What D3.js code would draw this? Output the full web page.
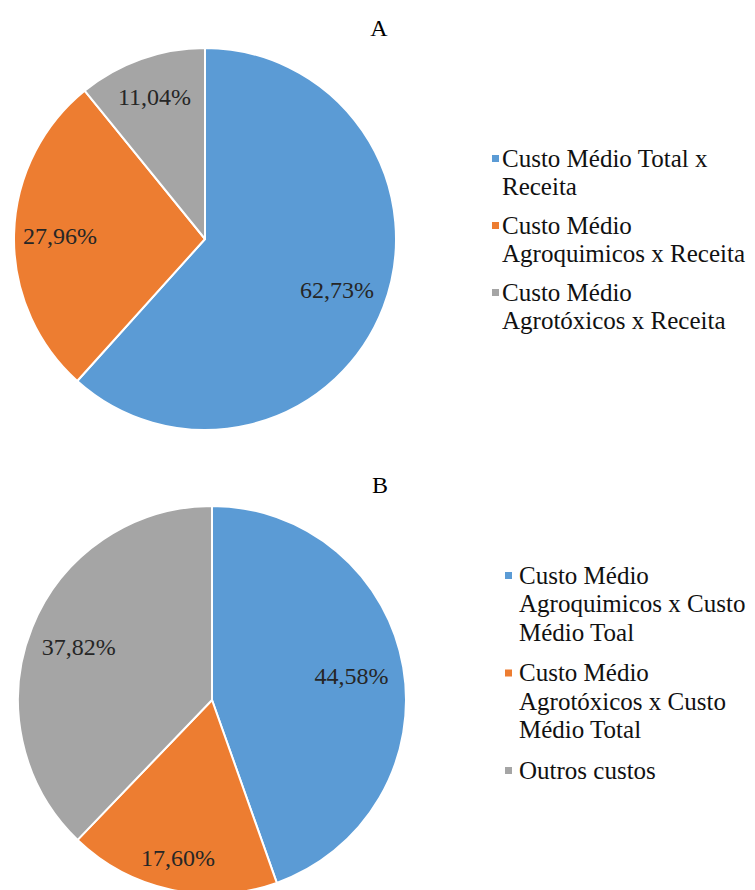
<!DOCTYPE html>
<html>
<head>
<meta charset="utf-8">
<script src="https://cdn.jsdelivr.net/npm/d3@7"></script>
<style>
  body { margin: 0; background: #fff; }
  svg { display: block; }
  svg text { font-family: 'Liberation Serif', 'DejaVu Serif', serif; }
</style>
</head>
<body>
<svg width="755" height="890"></svg>
<script>
// chart A data
const categoriesA = [
    ['Custo Médio Total x', 'Receita'],
    ['Custo Médio', 'Agroquimicos x Receita'],
    ['Custo Médio', 'Agrotóxicos x Receita']
];
const valuesA = [62.73, 27.96, 11.04];
const labelsA = ['62,73%', '27,96%', '11,04%'];

// chart B data
const categoriesB = [
    ['Custo Médio', 'Agroquimicos x Custo', 'Médio Toal'],
    ['Custo Médio', 'Agrotóxicos x Custo', 'Médio Total'],
    ['Outros custos']
];
const valuesB = [44.58, 17.60, 37.82];
const labelsB = ['44,58%', '17,60%', '37,82%'];

const colors = ['#5b9bd5', '#ed7d31', '#a5a5a5'];

const svg = d3.select('svg');

// draws one pie with its title and legend
function draw_pie(cfg) {
    const g = svg.append('g')
        .attr('transform', `translate(${cfg.cx},${cfg.cy})`);

    const color_scale = d3.scaleOrdinal()
        .domain(d3.range(cfg.values.length))
        .range(colors);

    const pie = d3.pie().sort(null).value(d => d);
    const arcs = pie(cfg.values);

    const arc = d3.arc().innerRadius(0).outerRadius(cfg.r);

    g.selectAll('.slice')
        .data(arcs)
        .enter()
        .append('path')
        .attr('class', 'slice')
        .attr('d', arc)
        .attr('fill', (d, i) => color_scale(i))
        .attr('stroke', '#fff')
        .attr('stroke-width', 2)
        .attr('stroke-linejoin', 'round');

    // percentage labels
    g.selectAll('.pct')
        .data(arcs)
        .enter()
        .append('text')
        .attr('class', 'pct')
        .attr('transform', (d, i) => {
            const lr = cfg.r * cfg.labelPos[i];
            const c = d3.arc().innerRadius(lr).outerRadius(lr).centroid(d);
            return `translate(${c[0]},${c[1]})`;
        })
        .attr('text-anchor', 'middle')
        .attr('dy', '0.35em')
        .attr('font-size', 24)
        .attr('fill', '#262626')
        .text((d, i) => cfg.labels[i]);

    // title
    svg.append('text')
        .attr('x', cfg.titleX)
        .attr('y', cfg.titleY)
        .attr('text-anchor', 'middle')
        .attr('dy', '0.35em')
        .attr('font-size', 24)
        .attr('fill', '#000')
        .text(cfg.title);

    // legend
    const legend = svg.append('g')
        .attr('transform', `translate(${cfg.legendX},${cfg.legendY})`);
    let y = 0;
    cfg.categories.forEach((lines, i) => {
        legend.append('rect')
            .attr('x', 0)
            .attr('y', y - 3)
            .attr('width', 7)
            .attr('height', 7)
            .attr('fill', color_scale(i));
        lines.forEach((line, j) => {
            legend.append('text')
                .attr('x', cfg.textOffset)
                .attr('y', y + j * 28.5)
                .attr('dy', '0.35em')
                .attr('font-size', 25)
                .attr('fill', '#111')
                .text(line);
        });
        y += lines.length * 28.5 + cfg.itemGap;
    });
}

draw_pie({
    values: valuesA, labels: labelsA, categories: categoriesA, title: 'A',
    cx: 205, cy: 239, r: 191,
    labelPos: [0.74, 0.76, 0.79],
    titleX: 379, titleY: 28,
    legendX: 492, legendY: 158, textOffset: 10, itemGap: 10
});

draw_pie({
    values: valuesB, labels: labelsB, categories: categoriesB, title: 'B',
    cx: 212, cy: 700, r: 194,
    labelPos: [0.73, 0.83, 0.74],
    titleX: 380, titleY: 485,
    legendX: 505, legendY: 575, textOffset: 14, itemGap: 12
});
</script>
</body>
</html>
